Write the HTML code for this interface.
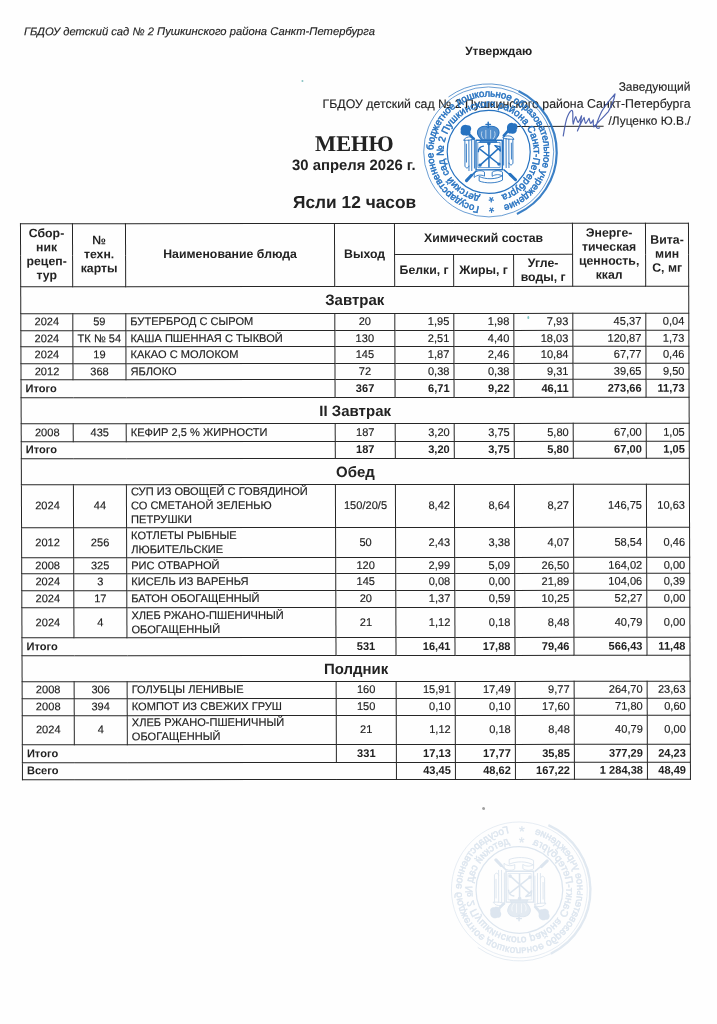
<!DOCTYPE html>
<html lang="ru">
<head>
<meta charset="utf-8">
<title>Меню</title>
<style>
html,body{margin:0;padding:0;background:#fefefe;}
body{width:717px;height:1024px;position:relative;overflow:hidden;font-family:"Liberation Sans",sans-serif;color:#222;}
#page{position:absolute;left:0;top:0;width:717px;height:1024px;transform-origin:358px 512px;transform:matrix(1,-0.0006,0.0036,1,0,0);}
.t{position:absolute;white-space:nowrap;line-height:1;}
#org{left:25.6px;top:26.4px;font-size:11.23px;font-style:italic;-webkit-text-stroke:0.15px #222;}
#appr{left:466.8px;top:46.3px;font-size:11.95px;font-weight:bold;}
.r{right:25px;font-size:12.37px;text-align:right;-webkit-text-stroke:0.12px #222;}
#menu{left:0;width:711.4px;text-align:center;top:132.8px;font-family:"Liberation Serif",serif;font-weight:bold;font-size:22.4px;}
#date{left:0;width:710.1px;text-align:center;top:157.7px;font-weight:bold;font-size:14.9px;}
#grp{left:0;width:711.4px;text-align:center;top:194.4px;font-weight:bold;font-size:17.35px;}
table{position:absolute;left:21px;top:223px;border-collapse:collapse;table-layout:fixed;width:668px;font-size:11.1px;line-height:13.8px;}
td,th{border:1px solid #262626;padding:0 4px;overflow:hidden;vertical-align:middle;}
th{font-size:12.3px;font-weight:bold;text-align:center;padding:0;}
td{-webkit-text-stroke:0.15px #222;}
td.c{text-align:center;padding:0;}
td.n{text-align:right;}
td.l{text-align:left;}
tr.sec td{font-size:15px;font-weight:bold;text-align:center;}
tr.tot td,tr.sec td{font-weight:bold;-webkit-text-stroke:0;}
svg{position:absolute;overflow:visible;}
#sigline{position:absolute;left:517.3px;top:126px;width:88px;height:1px;background:#2a2a2a;}
.sp{position:absolute;border-radius:50%;}
</style>
</head>
<body>
<div id="page">
<div class="t" id="org">ГБДОУ детский сад № 2 Пушкинского района Санкт-Петербурга</div>
<div class="t" id="appr">Утверждаю</div>
<div class="t r" style="top:81.3px;font-size:12px">Заведующий</div>
<div class="t r" style="top:98.4px">ГБДОУ детский сад № 2 Пушкинского района Санкт-Петербурга</div>
<div class="t r" style="top:116.2px;font-size:11.9px">/Луценко Ю.В./</div>
<div id="sigline"></div>
<svg id="stamp" style="left:414.2px;top:75.8px" width="152" height="152" viewBox="-76 -76 152 152">
<path id="po1" d="M0 55.3A55.3 55.3 0 1 1 0 -55.3A55.3 55.3 0 1 1 0 55.3" fill="none"/>
<path id="pi1" d="M0 45.0A45.0 45.0 0 1 1 0 -45.0A45.0 45.0 0 1 1 0 45.0" fill="none"/>
<circle r="65" fill="none" stroke="#2672c0" stroke-width="0.8" opacity="0.85"/>
<path d="M28 62A68 68 0 0 0 30 -61" fill="none" stroke="#2672c0" stroke-width="2.2" opacity="0.9"/>
<path d="M30 -61A68 68 0 0 0 -40 -55" fill="none" stroke="#2672c0" stroke-width="0.9" opacity="0.8"/>
<circle r="41.5" fill="none" stroke="#2672c0" stroke-width="1.2"/>
<text font-family="'Liberation Sans',sans-serif" font-size="9.8" fill="#2672c0" stroke="#2672c0" stroke-width="0.45"><textPath href="#po1" startOffset="9.5" textLength="322.8">Государственное бюджетное дошкольное образовательное учреждение</textPath></text>
<text font-family="'Liberation Sans',sans-serif" font-size="9.9" fill="#2672c0" stroke="#2672c0" stroke-width="0.45"><textPath href="#pi1" startOffset="8.8" textLength="260.8">детский сад № 2 Пушкинского района Санкт-Петербурга</textPath></text>
<text font-family="'Liberation Sans',sans-serif" font-size="14" fill="#2672c0" stroke="#2672c0" stroke-width="0.3" text-anchor="middle" transform="translate(2.4 48.8) rotate(180)" y="8.2">*</text>
<text font-family="'Liberation Sans',sans-serif" font-size="14" fill="#2672c0" stroke="#2672c0" stroke-width="0.3" text-anchor="middle" transform="translate(2.6 59.2) rotate(180)" y="8.2">*</text>
<g transform="translate(1.7 1.2)">
<path d="M-25 -22.9L-17 -14.500M20.8 -25.7L13.500 -17.5" fill="none" stroke="#2672c0" stroke-linecap="round" stroke-linejoin="round" stroke-width="2.600"/>
<path d="M13.5 16.7L21 23M-14.4 17.8L-20.500 24" fill="none" stroke="#2672c0" stroke-linecap="round" stroke-linejoin="round" stroke-width="1.500"/>
<path d="M19.500 21.200L25 26.600M-19 22.200L-24 27.500" fill="none" stroke="#2672c0" stroke-linecap="round" stroke-linejoin="round" stroke-width="3"/>
<path d="M-29.500 -22.300c-1 -4 3 -7.500 6.500 -5.500c3.500 -0.500 5 3.500 3 6c1 3 -3 5.500 -5.500 4c-2.500 0.500 -5 -1.500 -4 -4.500z" fill="#2672c0"/>
<path d="M16.800 -24.200c-1 -4 3 -7.500 6.500 -5.500c3.500 -0.500 5 3.500 3 6c1 3 -3 5.500 -5.500 4c-2.500 0.500 -5 -1.500 -4 -4.500z" fill="#2672c0"/>
<g transform="translate(0 1.2)">
<path d="M-2.1 -32v5.500M-4.300 -29.800h4.400" fill="none" stroke="#2672c0" stroke-linecap="round" stroke-linejoin="round" stroke-width="1.500"/>
<path d="M-2.1 -27c-2 -2 -9 -1.500 -10.600 3.500c-1 3.500 1 6 3.600 8.500l-1.500 3h17l-1.500 -3c2.600 -2.500 4.600 -5 3.600 -8.500c-1.600 -5 -8.600 -5.500 -10.600 -3.500z" fill="#2672c0" fill-opacity="0.800" stroke="#2672c0" stroke-width="1"/>
<path d="M-8.500 -22.500c-1 2.500 -0.500 5 1.500 7M4.300 -22.500c1 2.500 0.500 5 -1.500 7M-4.500 -24v8M0.300 -24v8" fill="none" stroke="#fff" stroke-width="0.800" stroke-linecap="round" opacity="0.750"/>
</g>
<path d="M-14.4 -12.9H11.9V16.7H-14.4Z" fill="none" stroke="#2672c0" stroke-linecap="round" stroke-linejoin="round" stroke-width="1.400"/>
<path d="M-12.2 -10.7H9.7V14.5H-12.2Z" fill="none" stroke="#2672c0" stroke-linecap="round" stroke-linejoin="round" stroke-width="0.700"/>
<path d="M-10.500 -4L8 10.600M8 -4.500L-10 11.700M-1.5 -9V14" fill="none" stroke="#2672c0" stroke-linecap="round" stroke-linejoin="round" stroke-width="1.500"/>
<path d="M-12 -1.500c0 -3 2 -5 5 -5.500M4.500 -7.500l5 1l0.500 4.500z" fill="none" stroke="#2672c0" stroke-linecap="round" stroke-linejoin="round" stroke-width="1.400"/>
<circle cx="-1.5" cy="-9.5" r="1.800" fill="#2672c0"/><circle cx="8.500" cy="11" r="1.700" fill="#2672c0"/><circle cx="-10.500" cy="12" r="1.700" fill="#2672c0"/>
<path d="M-26.300 -13c0 -3.500 8 -4.500 11 -1.500c-3 1.500 -8 2 -11 1.500zM-25.500 -12.500v25.500c1 2.500 3 2.500 4 0M-21.500 -13v30.500M-18.700 -13.500v31M-16 -14v29M-24 -9v18" fill="none" stroke="#2672c0" stroke-linecap="round" stroke-linejoin="round" stroke-width="0.900"/>
<path d="M23.300 -14c0 -3.500 -8 -4.500 -11 -1.500c3 1.500 8 2 11 1.500zM22.500 -13.500v23.500c-1 2.500 -3 2.500 -4 0M18.500 -14v28.500M15.700 -14.500v29M13.200 -15v27M21 -10v16" fill="none" stroke="#2672c0" stroke-linecap="round" stroke-linejoin="round" stroke-width="0.900"/>
<path d="M-16 19.500c3 -2.500 8 -2.500 10 -0.500v4c-3 -1.500 -7 -1.500 -10 1zM-11 23.500c6 3 17 3 23 -1v4.500c-6 3.500 -17 3.500 -23 1zM2 19c3 -2 7 -2 10 0v4c-3 -2 -7 -2 -10 0z" fill="none" stroke="#2672c0" stroke-linecap="round" stroke-linejoin="round" stroke-width="0.900"/>
</g>
</svg>
<svg id="sign" style="left:551.4px;top:90px" width="80" height="55" viewBox="550 90 80 55">
<path d="M563.6 136C565 128 566 121 567.8 116.800C569.500 112.500 571.800 109.500 572.800 110.900C574 113 572.500 120 573.600 124.300C574.500 121 575 118 576.200 116.800C577 119 577.500 122 578.700 122.600C580 121 581 118 582 115.900C581.500 121 580 127 577.800 131C580 126 583 120 584.500 117.600C585 120 585.200 123 586.200 123.500C587.500 122 588.500 120 589.500 118.400C590 120.500 590.200 123 591.200 123.500C592.300 122.500 593 121 593.700 120.100C593.500 123 593.300 125 594.300 127C599 122 605 116 608.800 111.700C612 106 615 98 615.500 94C612 98 606 105 602.100 111.700C599.500 117 597.500 122 596.500 126.500C597 128.500 598.500 129 600 128" fill="none" stroke="#3f55a8" stroke-width="1.2" stroke-linecap="round" stroke-linejoin="round" opacity="0.9"/>
</svg>
<div class="t" id="menu">МЕНЮ</div>
<div class="t" id="date">30 апреля 2026 г.</div>
<div class="t" id="grp">Ясли 12 часов</div>

<table>
<colgroup><col style="width:52px"><col style="width:53px"><col style="width:209px"><col style="width:60px"><col style="width:59px"><col style="width:60px"><col style="width:59px"><col style="width:73px"><col style="width:43px"></colgroup>
<thead>
<tr style="height:31px"><th rowspan="2">Сбор-<br>ник<br>рецеп-<br>тур</th><th rowspan="2">№<br>техн.<br>карты</th><th rowspan="2">Наименование блюда</th><th rowspan="2">Выход</th><th colspan="3">Химический состав</th><th rowspan="2">Энерге-<br>тическая<br>ценность,<br>ккал</th><th rowspan="2">Вита-<br>мин<br>С, мг</th></tr>
<tr style="height:32px"><th>Белки, г</th><th>Жиры, г</th><th>Угле-<br>воды, г</th></tr>
</thead>
<tbody>
<tr class="sec" style="height:27px"><td colspan="9">Завтрак</td></tr>
<tr class="d" style="height:17px"><td class="c">2024</td><td class="c">59</td><td class="l">БУТЕРБРОД С СЫРОМ</td><td class="c">20</td><td class="n">1,95</td><td class="n">1,98</td><td class="n">7,93</td><td class="n">45,37</td><td class="n">0,04</td></tr>
<tr class="d" style="height:16px"><td class="c">2024</td><td class="c">ТК № 54</td><td class="l">КАША ПШЕННАЯ С ТЫКВОЙ</td><td class="c">130</td><td class="n">2,51</td><td class="n">4,40</td><td class="n">18,03</td><td class="n">120,87</td><td class="n">1,73</td></tr>
<tr class="d" style="height:17px"><td class="c">2024</td><td class="c">19</td><td class="l">КАКАО С МОЛОКОМ</td><td class="c">145</td><td class="n">1,87</td><td class="n">2,46</td><td class="n">10,84</td><td class="n">67,77</td><td class="n">0,46</td></tr>
<tr class="d" style="height:16px"><td class="c">2012</td><td class="c">368</td><td class="l">ЯБЛОКО</td><td class="c">72</td><td class="n">0,38</td><td class="n">0,38</td><td class="n">9,31</td><td class="n">39,65</td><td class="n">9,50</td></tr>
<tr class="d tot" style="height:18px"><td colspan="3" class="l">Итого</td><td class="c">367</td><td class="n">6,71</td><td class="n">9,22</td><td class="n">46,11</td><td class="n">273,66</td><td class="n">11,73</td></tr>
<tr class="sec" style="height:26px"><td colspan="9">II Завтрак</td></tr>
<tr class="d" style="height:18px"><td class="c">2008</td><td class="c">435</td><td class="l">КЕФИР 2,5 % ЖИРНОСТИ</td><td class="c">187</td><td class="n">3,20</td><td class="n">3,75</td><td class="n">5,80</td><td class="n">67,00</td><td class="n">1,05</td></tr>
<tr class="d tot" style="height:17px"><td colspan="3" class="l">Итого</td><td class="c">187</td><td class="n">3,20</td><td class="n">3,75</td><td class="n">5,80</td><td class="n">67,00</td><td class="n">1,05</td></tr>
<tr class="sec" style="height:26px"><td colspan="9">Обед</td></tr>
<tr class="d" style="height:43px"><td class="c">2024</td><td class="c">44</td><td class="l">СУП ИЗ ОВОЩЕЙ С ГОВЯДИНОЙ<br>СО СМЕТАНОЙ ЗЕЛЕНЬЮ<br>ПЕТРУШКИ</td><td class="c">150/20/5</td><td class="n">8,42</td><td class="n">8,64</td><td class="n">8,27</td><td class="n">146,75</td><td class="n">10,63</td></tr>
<tr class="d" style="height:30px"><td class="c">2012</td><td class="c">256</td><td class="l">КОТЛЕТЫ РЫБНЫЕ<br>ЛЮБИТЕЛЬСКИЕ</td><td class="c">50</td><td class="n">2,43</td><td class="n">3,38</td><td class="n">4,07</td><td class="n">58,54</td><td class="n">0,46</td></tr>
<tr class="d" style="height:16px"><td class="c">2008</td><td class="c">325</td><td class="l">РИС ОТВАРНОЙ</td><td class="c">120</td><td class="n">2,99</td><td class="n">5,09</td><td class="n">26,50</td><td class="n">164,02</td><td class="n">0,00</td></tr>
<tr class="d" style="height:17px"><td class="c">2024</td><td class="c">3</td><td class="l">КИСЕЛЬ ИЗ ВАРЕНЬЯ</td><td class="c">145</td><td class="n">0,08</td><td class="n">0,00</td><td class="n">21,89</td><td class="n">104,06</td><td class="n">0,39</td></tr>
<tr class="d" style="height:17px"><td class="c">2024</td><td class="c">17</td><td class="l">БАТОН ОБОГАЩЕННЫЙ</td><td class="c">20</td><td class="n">1,37</td><td class="n">0,59</td><td class="n">10,25</td><td class="n">52,27</td><td class="n">0,00</td></tr>
<tr class="d" style="height:30px"><td class="c">2024</td><td class="c">4</td><td class="l">ХЛЕБ РЖАНО-ПШЕНИЧНЫЙ<br>ОБОГАЩЕННЫЙ</td><td class="c">21</td><td class="n">1,12</td><td class="n">0,18</td><td class="n">8,48</td><td class="n">40,79</td><td class="n">0,00</td></tr>
<tr class="d tot" style="height:18px"><td colspan="3" class="l">Итого</td><td class="c">531</td><td class="n">16,41</td><td class="n">17,88</td><td class="n">79,46</td><td class="n">566,43</td><td class="n">11,48</td></tr>
<tr class="sec" style="height:26px"><td colspan="9">Полдник</td></tr>
<tr class="d" style="height:17px"><td class="c">2008</td><td class="c">306</td><td class="l">ГОЛУБЦЫ ЛЕНИВЫЕ</td><td class="c">160</td><td class="n">15,91</td><td class="n">17,49</td><td class="n">9,77</td><td class="n">264,70</td><td class="n">23,63</td></tr>
<tr class="d" style="height:17px"><td class="c">2008</td><td class="c">394</td><td class="l">КОМПОТ ИЗ СВЕЖИХ ГРУШ</td><td class="c">150</td><td class="n">0,10</td><td class="n">0,10</td><td class="n">17,60</td><td class="n">71,80</td><td class="n">0,60</td></tr>
<tr class="d" style="height:29px"><td class="c">2024</td><td class="c">4</td><td class="l">ХЛЕБ РЖАНО-ПШЕНИЧНЫЙ<br>ОБОГАЩЕННЫЙ</td><td class="c">21</td><td class="n">1,12</td><td class="n">0,18</td><td class="n">8,48</td><td class="n">40,79</td><td class="n">0,00</td></tr>
<tr class="d tot" style="height:18px"><td colspan="3" class="l">Итого</td><td class="c">331</td><td class="n">17,13</td><td class="n">17,77</td><td class="n">35,85</td><td class="n">377,29</td><td class="n">24,23</td></tr>
<tr class="d tot" style="height:17px"><td colspan="4" class="l">Всего</td><td class="n">43,45</td><td class="n">48,62</td><td class="n">167,22</td><td class="n">1 284,38</td><td class="n">48,49</td></tr>
</tbody>
</table>
<div class="sp" style="left:303px;top:80px;width:2px;height:2px;background:#5aa;opacity:.7"></div>
<div class="sp" style="left:528px;top:316px;width:2px;height:3px;background:#4aa;opacity:.7"></div>
<div class="sp" style="left:481px;top:807px;width:3px;height:3px;background:#777;opacity:.7"></div>
<svg id="ghost" style="left:442px;top:814.300px;opacity:0.2" width="152" height="152" viewBox="-76 -76 152 152">
<g transform="scale(1.045 -1.045)">
<path id="po2" d="M0 55.3A55.3 55.3 0 1 1 0 -55.3A55.3 55.3 0 1 1 0 55.3" fill="none"/>
<path id="pi2" d="M0 45.0A45.0 45.0 0 1 1 0 -45.0A45.0 45.0 0 1 1 0 45.0" fill="none"/>
<circle r="65" fill="none" stroke="#5b87b5" stroke-width="0.8" opacity="0.85"/>
<path d="M28 62A68 68 0 0 0 30 -61" fill="none" stroke="#5b87b5" stroke-width="2.2" opacity="0.9"/>
<path d="M30 -61A68 68 0 0 0 -40 -55" fill="none" stroke="#5b87b5" stroke-width="0.9" opacity="0.8"/>
<circle r="41.5" fill="none" stroke="#5b87b5" stroke-width="1.2"/>
<text font-family="'Liberation Sans',sans-serif" font-size="9.8" fill="#5b87b5" stroke="#5b87b5" stroke-width="0.45"><textPath href="#po2" startOffset="9.5" textLength="322.8">Государственное бюджетное дошкольное образовательное учреждение</textPath></text>
<text font-family="'Liberation Sans',sans-serif" font-size="9.9" fill="#5b87b5" stroke="#5b87b5" stroke-width="0.45"><textPath href="#pi2" startOffset="8.8" textLength="260.8">детский сад № 2 Пушкинского района Санкт-Петербурга</textPath></text>
<text font-family="'Liberation Sans',sans-serif" font-size="14" fill="#5b87b5" stroke="#5b87b5" stroke-width="0.3" text-anchor="middle" transform="translate(2.4 48.8) rotate(180)" y="8.2">*</text>
<text font-family="'Liberation Sans',sans-serif" font-size="14" fill="#5b87b5" stroke="#5b87b5" stroke-width="0.3" text-anchor="middle" transform="translate(2.6 59.2) rotate(180)" y="8.2">*</text>
<g transform="translate(1.7 1.2)">
<path d="M-25 -22.9L-17 -14.500M20.8 -25.7L13.500 -17.5" fill="none" stroke="#5b87b5" stroke-linecap="round" stroke-linejoin="round" stroke-width="2.600"/>
<path d="M13.5 16.7L21 23M-14.4 17.8L-20.500 24" fill="none" stroke="#5b87b5" stroke-linecap="round" stroke-linejoin="round" stroke-width="1.500"/>
<path d="M19.500 21.200L25 26.600M-19 22.200L-24 27.500" fill="none" stroke="#5b87b5" stroke-linecap="round" stroke-linejoin="round" stroke-width="3"/>
<path d="M-29.500 -22.300c-1 -4 3 -7.500 6.500 -5.500c3.500 -0.500 5 3.500 3 6c1 3 -3 5.500 -5.500 4c-2.500 0.500 -5 -1.500 -4 -4.500z" fill="#5b87b5"/>
<path d="M16.800 -24.200c-1 -4 3 -7.500 6.500 -5.500c3.500 -0.500 5 3.500 3 6c1 3 -3 5.500 -5.500 4c-2.500 0.500 -5 -1.500 -4 -4.500z" fill="#5b87b5"/>
<g transform="translate(0 1.2)">
<path d="M-2.1 -32v5.500M-4.300 -29.800h4.400" fill="none" stroke="#5b87b5" stroke-linecap="round" stroke-linejoin="round" stroke-width="1.500"/>
<path d="M-2.1 -27c-2 -2 -9 -1.500 -10.600 3.500c-1 3.500 1 6 3.600 8.500l-1.500 3h17l-1.500 -3c2.600 -2.500 4.600 -5 3.600 -8.500c-1.600 -5 -8.600 -5.500 -10.600 -3.500z" fill="#5b87b5" fill-opacity="0.800" stroke="#5b87b5" stroke-width="1"/>
<path d="M-8.500 -22.500c-1 2.500 -0.500 5 1.500 7M4.300 -22.500c1 2.500 0.500 5 -1.500 7M-4.500 -24v8M0.300 -24v8" fill="none" stroke="#fff" stroke-width="0.800" stroke-linecap="round" opacity="0.750"/>
</g>
<path d="M-14.4 -12.9H11.9V16.7H-14.4Z" fill="none" stroke="#5b87b5" stroke-linecap="round" stroke-linejoin="round" stroke-width="1.400"/>
<path d="M-12.2 -10.7H9.7V14.5H-12.2Z" fill="none" stroke="#5b87b5" stroke-linecap="round" stroke-linejoin="round" stroke-width="0.700"/>
<path d="M-10.500 -4L8 10.600M8 -4.500L-10 11.700M-1.5 -9V14" fill="none" stroke="#5b87b5" stroke-linecap="round" stroke-linejoin="round" stroke-width="1.500"/>
<path d="M-12 -1.500c0 -3 2 -5 5 -5.500M4.500 -7.500l5 1l0.500 4.500z" fill="none" stroke="#5b87b5" stroke-linecap="round" stroke-linejoin="round" stroke-width="1.400"/>
<circle cx="-1.5" cy="-9.5" r="1.800" fill="#5b87b5"/><circle cx="8.500" cy="11" r="1.700" fill="#5b87b5"/><circle cx="-10.500" cy="12" r="1.700" fill="#5b87b5"/>
<path d="M-26.300 -13c0 -3.500 8 -4.500 11 -1.500c-3 1.500 -8 2 -11 1.500zM-25.500 -12.500v25.500c1 2.500 3 2.500 4 0M-21.500 -13v30.500M-18.700 -13.500v31M-16 -14v29M-24 -9v18" fill="none" stroke="#5b87b5" stroke-linecap="round" stroke-linejoin="round" stroke-width="0.900"/>
<path d="M23.300 -14c0 -3.500 -8 -4.500 -11 -1.500c3 1.500 8 2 11 1.500zM22.500 -13.500v23.500c-1 2.500 -3 2.500 -4 0M18.500 -14v28.500M15.700 -14.500v29M13.200 -15v27M21 -10v16" fill="none" stroke="#5b87b5" stroke-linecap="round" stroke-linejoin="round" stroke-width="0.900"/>
<path d="M-16 19.500c3 -2.500 8 -2.500 10 -0.500v4c-3 -1.500 -7 -1.500 -10 1zM-11 23.500c6 3 17 3 23 -1v4.500c-6 3.500 -17 3.500 -23 1zM2 19c3 -2 7 -2 10 0v4c-3 -2 -7 -2 -10 0z" fill="none" stroke="#5b87b5" stroke-linecap="round" stroke-linejoin="round" stroke-width="0.900"/>
</g>
</g>
</svg>
</div>
</body>
</html>
